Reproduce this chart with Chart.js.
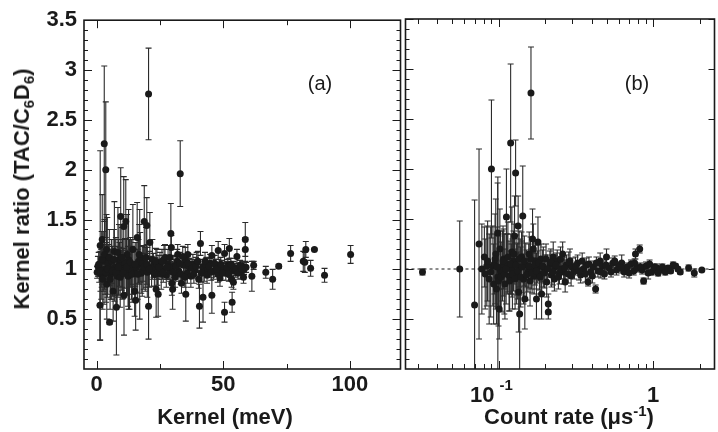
<!DOCTYPE html>
<html>
<head>
<meta charset="utf-8">
<script src="https://cdn.jsdelivr.net/npm/chart.js@4.4.1/dist/chart.umd.min.js"></script>
<style>
  body { margin: 0; background: #fff; }
  #wrap { position: relative; width: 718px; height: 432px; overflow: hidden; font-family: "Liberation Sans", Arial, sans-serif; color: #1a1a1a; }
  canvas { position: absolute; top: 0; }
  .lbl { position: absolute; white-space: nowrap; line-height: 1; transform: translate(-50%, -50%); font-weight: bold; font-size: 22px; }
  .lbl sub, .lbl sup { font-size: 0.68em; line-height: 0; }
  .tag { position: absolute; white-space: nowrap; line-height: 1; transform: translate(-50%, -50%); font-size: 20px; }
</style>
</head>
<body>
<div id="wrap">
  <canvas id="panelA" width="404" height="432" style="left:0"></canvas>
  <canvas id="panelB" width="316" height="432" style="left:402px"></canvas>
  <div class="lbl" style="left:22px; top:189px; transform: translate(-50%, -50%) rotate(-90deg);">Kernel ratio (TAC/C<sub>6</sub>D<sub>6</sub>)</div>
  <div class="lbl" style="left:225px; top:417px;">Kernel (meV)</div>
  <div class="lbl" style="left:569px; top:417px;">Count rate (&mu;s<sup>-1</sup>)</div>
  <div class="tag" style="left:320px; top:83px;">(a)</div>
  <div class="tag" style="left:637px; top:83px;">(b)</div>
</div>
<script>
// Panel (a): kernel energy vs ratio
const kernelMeV = [
  20.5, 3.0, 3.6, 33.0, 1.4, 9.5, 10.7, 11.5, 18.8, 19.8,
  29.3, 58.7, 58.7, 52.4, 7.8, 5.1, 1.3, 20.5, 15.4, 10.8,
  50.5, 53.5, 40.6, 42.0, 45.5, 35.2, 23.5, 24.3, 30.0, 15.0,
  4.0, 6.5, 2.2, 3.9, 7.0, 8.4, 12.6, 14.3, 16.0, 17.0,
  21.0, 13.0, 0.2, 0.5, 1.0, 1.8, 2.6, 3.3, 4.6, 5.5,
  6.0, 7.3, 8.1, 9.0, 9.9, 11.2, 12.1, 13.6, 14.8, 16.5,
  17.6, 18.3, 19.2, 21.7, 22.4, 23.0, 24.0, 25.0, 26.0, 26.6,
  27.5, 28.2, 29.0, 29.5, 30.5, 31.0, 31.8, 32.0, 32.5, 33.5,
  34.3, 35.0, 35.8, 36.5, 37.2, 38.0, 38.8, 39.5, 40.3, 41.0,
  41.8, 42.5, 43.3, 44.0, 44.8, 45.5, 46.2, 47.0, 47.8, 48.0,
  48.7, 49.3, 50.0, 50.5, 51.0, 51.8, 52.6, 53.3, 54.0, 54.7,
  55.4, 56.2, 57.0, 57.6, 58.2, 59.0, 58.0, 54.0, 29.7, 36.0,
  61.3, 62.0, 66.8, 69.5, 71.9, 76.6, 81.6, 82.2, 82.6, 86.0,
  84.5, 90.0, 100.3, 2.9, 4.2, 5.8, 8.8, 10.2, 12.0, 13.8,
  15.6, 17.2, 18.0, 19.5, 20.0, 22.0, 23.8, 25.5, 27.0, 28.6,
  0.8, 1.5, 2.0, 2.4, 3.1, 3.7, 4.4, 5.0, 5.3, 6.2,
  6.8, 7.6, 8.6, 9.3, 10.0, 10.5, 11.8, 12.4, 13.3, 14.0,
  15.2, 16.2, 16.8, 18.6, 19.8, 20.8, 22.8, 23.4, 24.6, 25.8,
  26.3, 27.8, 28.9, 30.2, 31.4, 32.8, 33.2, 34.0, 34.8, 36.2,
  37.6, 38.4, 39.2, 40.0, 41.4, 42.8, 43.6, 44.4, 45.2, 46.6,
  47.4, 49.0, 49.7, 51.4, 52.2, 53.0, 55.0, 55.8, 56.6, 57.3
];
const kernelRatio = [
  2.76, 2.26, 2.00, 1.96, 1.24, 1.53, 1.43, 1.48, 1.48, 1.44,
  1.36, 1.30, 1.20, 1.21, 0.62, 0.47, 0.64, 0.63, 0.69, 0.74,
  0.57, 0.67, 0.63, 0.72, 0.74, 0.75, 0.80, 0.75, 0.80, 0.78,
  0.85, 0.78, 1.30, 1.20, 1.18, 1.17, 1.10, 1.20, 1.32, 1.05,
  1.27, 0.95, 0.97, 1.03, 1.02, 0.95, 1.08, 1.00, 1.05, 0.95,
  1.08, 1.02, 0.93, 1.05, 0.99, 1.06, 0.97, 1.03, 1.00, 1.08,
  0.96, 1.06, 1.00, 0.98, 1.04, 1.02, 0.96, 1.05, 1.00, 1.10,
  0.94, 1.05, 0.98, 1.22, 1.03, 0.92, 1.08, 1.15, 0.98, 0.86,
  1.04, 1.10, 0.96, 1.02, 0.93, 1.05, 0.99, 1.07, 0.90, 1.26,
  1.02, 0.97, 1.04, 1.00, 1.06, 1.14, 0.98, 1.03, 0.95, 1.19,
  0.91, 1.02, 1.00, 1.16, 0.96, 1.04, 0.99, 0.90, 1.02, 0.98,
  1.13, 1.01, 0.97, 1.03, 1.00, 1.02, 0.92, 0.87, 0.86, 1.15,
  0.93, 1.04, 0.97, 0.90, 1.03, 1.16, 1.08, 1.07, 1.20, 1.20,
  1.01, 0.94, 1.15, 0.95, 1.12, 1.00, 1.10, 1.00, 1.15, 1.00,
  1.02, 1.12, 0.98, 1.12, 0.97, 1.10, 1.05, 0.95, 1.12, 1.02,
  1.05, 0.98, 1.10, 0.90, 1.15, 0.97, 1.00, 1.12, 0.90, 0.98,
  1.10, 0.97, 1.02, 0.92, 1.12, 0.96, 1.02, 0.93, 1.07, 0.95,
  1.05, 0.95, 1.15, 1.02, 1.05, 1.00, 0.95, 1.08, 1.02, 1.08,
  0.97, 1.02, 1.12, 0.97, 1.03, 1.06, 0.95, 1.13, 0.92, 1.06,
  1.01, 0.95, 1.03, 1.08, 0.96, 1.08, 0.94, 1.03, 0.97, 1.06,
  1.00, 1.05, 0.96, 1.02, 0.95, 1.05, 1.00, 0.96, 1.04, 1.00
];
const kernelErr = [
  0.46, 0.78, 0.68, 0.33, 0.95, 0.49, 0.50, 0.42, 0.36, 0.28,
  0.30, 0.17, 0.12, 0.10, 0.48, 0.02, 0.35, 0.33, 0.30, 0.40,
  0.10, 0.10, 0.22, 0.25, 0.18, 0.27, 0.28, 0.22, 0.20, 0.25,
  0.35, 0.30, 0.45, 0.35, 0.50, 0.45, 0.50, 0.45, 0.35, 0.55,
  0.30, 0.35, 0.06, 0.10, 0.15, 0.25, 0.30, 0.25, 0.20, 0.25,
  0.22, 0.28, 0.30, 0.22, 0.20, 0.25, 0.22, 0.18, 0.20, 0.22,
  0.20, 0.18, 0.22, 0.15, 0.12, 0.10, 0.12, 0.12, 0.10, 0.14,
  0.12, 0.15, 0.10, 0.12, 0.11, 0.10, 0.12, 0.10, 0.10, 0.10,
  0.10, 0.12, 0.10, 0.09, 0.11, 0.10, 0.08, 0.10, 0.09, 0.12,
  0.08, 0.09, 0.08, 0.07, 0.09, 0.10, 0.08, 0.07, 0.08, 0.09,
  0.08, 0.07, 0.06, 0.09, 0.07, 0.06, 0.07, 0.08, 0.06, 0.06,
  0.07, 0.05, 0.06, 0.05, 0.05, 0.05, 0.06, 0.07, 0.12, 0.10,
  0.15, 0.04, 0.06, 0.10, 0.02, 0.08, 0.10, 0.10, 0.08, 0.01,
  0.08, 0.07, 0.09, 0.30, 0.40, 0.30, 0.35, 0.30, 0.40, 0.30,
  0.25, 0.25, 0.25, 0.30, 0.25, 0.20, 0.15, 0.15, 0.13, 0.12,
  0.12, 0.20, 0.28, 0.30, 0.35, 0.30, 0.25, 0.28, 0.30, 0.25,
  0.30, 0.35, 0.28, 0.30, 0.30, 0.25, 0.28, 0.30, 0.25, 0.28,
  0.22, 0.25, 0.30, 0.22, 0.20, 0.18, 0.12, 0.13, 0.12, 0.12,
  0.10, 0.12, 0.12, 0.10, 0.10, 0.11, 0.10, 0.10, 0.10, 0.10,
  0.09, 0.09, 0.09, 0.10, 0.09, 0.09, 0.08, 0.08, 0.08, 0.08,
  0.07, 0.07, 0.07, 0.06, 0.07, 0.06, 0.06, 0.06, 0.05, 0.05
];

// Panel (b): count rate vs ratio
const rateUs = [
  0.0322, 0.0561, 0.070, 0.0748, 0.078, 0.081, 0.084, 0.090, 0.092, 0.0987,
  0.099, 0.097, 0.101, 0.106, 0.1125, 0.1198, 0.122, 0.129, 0.127, 0.134,
  0.137, 0.1435, 0.135, 0.148, 0.1622, 0.166, 0.176, 0.180, 0.190, 0.210,
  0.210, 0.195, 0.205, 0.226, 0.264, 0.270, 0.290, 0.380, 0.425, 0.455,
  0.500, 0.627, 0.770, 0.820, 0.869, 0.930, 1.06, 1.35, 1.40, 1.50,
  1.70, 1.85, 2.07, 0.082, 0.087, 0.094, 0.096, 0.103, 0.108, 0.110,
  0.114, 0.117, 0.121, 0.125, 0.131, 0.138, 0.141, 0.145, 0.150, 0.155,
  0.158, 0.163, 0.170, 0.173, 0.178, 0.184, 0.188, 0.200, 0.215, 0.220,
  0.232, 0.240, 0.248, 0.255, 0.275, 0.282, 0.300, 0.310, 0.325, 0.340,
  0.355, 0.370, 0.395, 0.410, 0.440, 0.470, 0.485, 0.520, 0.550, 0.580,
  0.600, 0.650, 0.680, 0.720, 0.750, 0.790, 0.850, 0.900, 0.980, 1.02,
  1.10, 1.15, 1.20, 1.25, 1.30, 1.45, 0.160, 0.168, 0.230, 0.260,
  0.085, 0.089, 0.093, 0.095, 0.098, 0.100, 0.102, 0.104, 0.107, 0.109,
  0.112, 0.115, 0.118, 0.120, 0.123, 0.126, 0.128, 0.130, 0.133, 0.136,
  0.139, 0.142, 0.147, 0.152, 0.157, 0.161, 0.165, 0.172, 0.176, 0.182,
  0.186, 0.193, 0.198, 0.203, 0.208, 0.218, 0.225, 0.236, 0.244, 0.252,
  0.268, 0.285, 0.295, 0.315, 0.332, 0.348, 0.365, 0.385, 0.405, 0.430,
  0.460, 0.495, 0.535, 0.565, 0.620, 0.700, 0.760, 0.830, 0.950, 1.08
];
const rateRatio = [
  0.97, 1.00, 0.64, 1.25, 1.00, 1.12, 1.03, 2.00, 1.03, 1.36,
  0.92, 0.80, 0.60, 1.03, 1.52, 2.26, 1.17, 1.96, 1.33, 1.43,
  0.55, 1.53, 0.77, 0.70, 2.76, 1.30, 0.70, 1.27, 0.75, 0.57,
  0.65, 1.02, 0.87, 1.12, 0.97, 0.87, 1.08, 0.87, 0.80, 1.08,
  1.12, 1.06, 1.15, 1.20, 0.88, 0.96, 1.01, 1.04, 1.03, 0.97,
  1.01, 0.96, 0.99, 0.95, 0.90, 1.05, 1.15, 0.98, 1.10, 0.85,
  1.05, 0.93, 1.00, 1.08, 0.95, 1.02, 1.12, 0.90, 1.04, 0.97,
  1.15, 1.00, 0.93, 1.08, 1.02, 0.95, 1.10, 1.00, 1.05, 0.94,
  1.02, 1.08, 0.96, 1.00, 1.04, 0.95, 1.02, 0.98, 1.06, 0.94,
  1.00, 1.04, 0.97, 1.02, 0.98, 1.03, 0.95, 1.01, 1.06, 0.99,
  1.03, 0.97, 1.02, 1.05, 0.98, 1.01, 0.99, 1.03, 0.97, 1.02,
  0.99, 1.02, 0.97, 1.01, 0.98, 1.00, 0.88, 1.20, 0.90, 1.15,
  1.08, 0.97, 0.85, 1.10, 1.02, 0.88, 1.20, 0.92, 1.08, 0.95,
  1.00, 1.12, 0.88, 1.05, 0.95, 1.15, 0.90, 1.04, 0.98, 1.10,
  0.92, 1.02, 1.08, 0.94, 1.03, 1.10, 0.96, 1.04, 0.98, 1.06,
  0.92, 1.03, 0.96, 1.10, 1.00, 1.07, 0.97, 1.04, 0.92, 1.10,
  1.01, 1.07, 0.93, 1.03, 0.98, 1.08, 0.95, 1.05, 0.93, 1.06,
  0.97, 1.04, 0.97, 1.08, 1.01, 0.96, 1.06, 1.02, 1.05, 0.96
];
const rateErr = [
  0.03, 0.48, 1.05, 0.95, 0.45, 0.30, 0.40, 0.69, 0.40, 0.50,
  1.00, 0.35, 0.30, 0.35, 0.48, 0.79, 0.45, 0.33, 0.40, 0.30,
  0.60, 0.50, 0.40, 0.30, 0.46, 0.30, 0.20, 0.25, 0.25, 0.07,
  0.10, 0.20, 0.15, 0.15, 0.12, 0.10, 0.12, 0.04, 0.04, 0.08,
  0.08, 0.08, 0.05, 0.04, 0.03, 0.06, 0.04, 0.03, 0.02, 0.02,
  0.03, 0.04, 0.01, 0.35, 0.45, 0.30, 0.55, 0.40, 0.30, 0.35,
  0.30, 0.35, 0.25, 0.30, 0.30, 0.28, 0.25, 0.25, 0.22, 0.20,
  0.22, 0.20, 0.18, 0.18, 0.16, 0.16, 0.15, 0.14, 0.13, 0.12,
  0.12, 0.11, 0.11, 0.10, 0.10, 0.09, 0.09, 0.08, 0.08, 0.08,
  0.07, 0.07, 0.06, 0.06, 0.06, 0.05, 0.05, 0.05, 0.05, 0.05,
  0.04, 0.05, 0.04, 0.04, 0.04, 0.04, 0.04, 0.04, 0.03, 0.03,
  0.03, 0.03, 0.03, 0.02, 0.02, 0.02, 0.25, 0.25, 0.12, 0.12,
  0.40, 0.45, 0.40, 0.45, 0.40, 0.45, 0.40, 0.35, 0.35, 0.40,
  0.35, 0.35, 0.30, 0.30, 0.35, 0.30, 0.30, 0.30, 0.28, 0.28,
  0.30, 0.26, 0.25, 0.25, 0.22, 0.22, 0.20, 0.20, 0.18, 0.18,
  0.17, 0.16, 0.15, 0.15, 0.14, 0.13, 0.13, 0.12, 0.12, 0.12,
  0.11, 0.10, 0.10, 0.09, 0.09, 0.08, 0.08, 0.07, 0.07, 0.06,
  0.06, 0.06, 0.05, 0.05, 0.05, 0.05, 0.04, 0.04, 0.04, 0.03
];

// reference line at ratio 1 in (b)
const refRate = [0.025, 2.5];
const refRatio = [1, 1];

// ticks
const ratioTicks = [0.5, 1, 1.5, 2, 2.5, 3, 3.5];
const ratioMinor = [0.1, 0.2, 0.3, 0.4, 0.6, 0.7, 0.8, 0.9, 1.1, 1.2, 1.3, 1.4, 1.6, 1.7, 1.8, 1.9,
  2.1, 2.2, 2.3, 2.4, 2.6, 2.7, 2.8, 2.9, 3.1, 3.2, 3.3, 3.4];
const kernelTicks = [0, 50, 100];
const kernelMinor = [25, 75];
const rateTicks = [0.1, 1];
const rateMinor = [0.03, 0.04, 0.05, 0.06, 0.07, 0.08, 0.09, 0.2, 0.3, 0.4, 0.5, 0.6, 0.7, 0.8, 0.9, 2];

const ink = '#1a1a1a';
const tickFont = { family: '"Liberation Sans", Arial, sans-serif', size: 22, weight: 'bold' };

// error bars drawn under the markers
const errorBars = {
  id: 'errorBars',
  beforeDatasetsDraw(chart) {
    const { ctx, chartArea: a, scales: { x, y } } = chart;
    ctx.save();
    ctx.beginPath();
    ctx.rect(a.left, a.top, a.right - a.left, a.bottom - a.top);
    ctx.clip();
    ctx.strokeStyle = '#2b2b2b';
    ctx.lineWidth = 1.1;
    chart.data.datasets.forEach(ds => {
      if (!ds.errors) return;
      ds.data.forEach((p, i) => {
        const e = ds.errors[i];
        if (!e) return;
        const px = x.getPixelForValue(p.x);
        const top = y.getPixelForValue(p.y + e);
        const bot = y.getPixelForValue(p.y - e);
        ctx.beginPath();
        ctx.moveTo(px, top); ctx.lineTo(px, bot);
        ctx.moveTo(px - 3, top); ctx.lineTo(px + 3, top);
        ctx.moveTo(px - 3, bot); ctx.lineTo(px + 3, bot);
        ctx.stroke();
      });
    });
    ctx.restore();
  }
};

// box + inward ticks
function makeFrame(cfg) {
  return {
    id: 'frame',
    afterDraw(chart) {
      const { ctx, chartArea: a, scales: { x, y } } = chart;
      ctx.save();
      ctx.strokeStyle = ink;
      ctx.lineWidth = 1;
      const seg = (x1, y1, x2, y2) => { ctx.beginPath(); ctx.moveTo(x1, y1); ctx.lineTo(x2, y2); ctx.stroke(); };
      const yt = (v, len, right) => {
        const p = Math.round(y.getPixelForValue(v)) + 0.5;
        if (right) seg(a.right, p, a.right - len, p); else seg(a.left, p, a.left + len, p);
      };
      ratioTicks.forEach(v => { yt(v, 8, false); yt(v, cfg.rightMinor ? 8 : 6, true); });
      ratioMinor.forEach(v => { yt(v, 4, false); if (cfg.rightMinor) yt(v, 4, true); });
      const xt = (v, len) => {
        const p = Math.round(x.getPixelForValue(v)) + 0.5;
        seg(p, a.bottom, p, a.bottom - len);
        seg(p, a.top, p, a.top + len);
      };
      cfg.xMajor.forEach(v => xt(v, 8));
      cfg.xMinor.forEach(v => xt(v, 5));
      ctx.lineWidth = 1.6;
      ctx.strokeRect(a.left, a.top, a.right - a.left, a.bottom - a.top);
      if (cfg.logLabels) {
        ctx.fillStyle = ink;
        ctx.textBaseline = 'alphabetic';
        const base = a.bottom + 33;
        let p = x.getPixelForValue(0.1);
        ctx.font = 'bold 22px "Liberation Sans", Arial, sans-serif';
        ctx.textAlign = 'right';
        ctx.fillText('10', p - 4, base);
        ctx.font = 'bold 15px "Liberation Sans", Arial, sans-serif';
        ctx.textAlign = 'left';
        ctx.fillText('-1', p + 1, base - 12);
        p = x.getPixelForValue(1);
        ctx.font = 'bold 22px "Liberation Sans", Arial, sans-serif';
        ctx.textAlign = 'center';
        ctx.fillText('1', p, base);
      }
      ctx.restore();
    }
  };
}

const points = (xs, ys) => xs.map((v, i) => ({ x: v, y: ys[i] }));
const marker = { pointRadius: 3.5, pointHoverRadius: 3.5, backgroundColor: ink, borderWidth: 0, showLine: false };
const yScale = (w, show) => ({
  min: 0, max: 3.5,
  grid: { display: false, drawTicks: false }, border: { display: false },
  afterBuildTicks: s => { s.ticks = ratioTicks.map(v => ({ value: v })); },
  afterFit: s => { s.width = w; },
  ticks: { display: show, font: tickFont, color: ink, padding: 7, callback: v => String(v) }
});

new Chart(document.getElementById('panelA'), {
  type: 'scatter',
  data: {
    datasets: [{ data: points(kernelMeV, kernelRatio), errors: kernelErr, ...marker }]
  },
  options: {
    responsive: false, animation: false, events: [],
    layout: { padding: { top: 19, right: 1, left: 0, bottom: 0 } },
    plugins: { legend: { display: false }, tooltip: { enabled: false } },
    scales: {
      x: {
        type: 'linear', min: -5, max: 120,
        grid: { display: false, drawTicks: false }, border: { display: false },
        afterBuildTicks: s => { s.ticks = kernelTicks.map(v => ({ value: v })); },
        afterFit: s => { s.height = 63; },
        ticks: { font: tickFont, color: ink, padding: 3, maxRotation: 0, autoSkip: false }
      },
      y: yScale(84, true)
    }
  },
  plugins: [errorBars, makeFrame({ xMajor: kernelTicks, xMinor: kernelMinor, rightMinor: true })]
});

new Chart(document.getElementById('panelB'), {
  type: 'scatter',
  data: {
    datasets: [
      { data: points(rateUs, rateRatio), errors: rateErr, order: 1, ...marker },
      { type: 'line', data: points(refRate, refRatio), order: 2, borderColor: ink, borderWidth: 1,
        borderDash: [3, 3], pointRadius: 0, fill: false }
    ]
  },
  options: {
    responsive: false, animation: false, events: [],
    layout: { padding: { top: 19, right: 1, left: 1, bottom: 0 } },
    plugins: { legend: { display: false }, tooltip: { enabled: false } },
    scales: {
      x: {
        type: 'logarithmic', min: 0.025, max: 2.5,
        grid: { display: false, drawTicks: false }, border: { display: false },
        afterFit: s => { s.height = 63; },
        ticks: { display: false }
      },
      y: yScale(0, false)
    }
  },
  plugins: [errorBars, makeFrame({ xMajor: rateTicks, xMinor: rateMinor, rightMinor: false, logLabels: true })]
});
</script>
</body>
</html>
